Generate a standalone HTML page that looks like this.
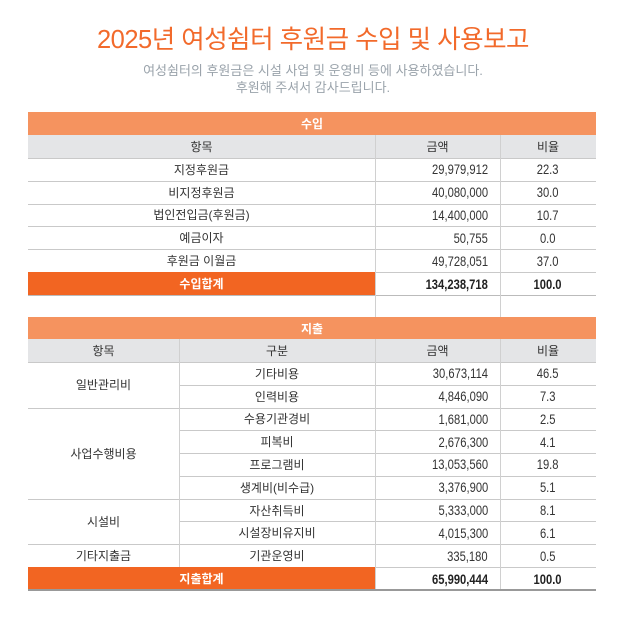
<!DOCTYPE html>
<html><head><meta charset="utf-8"><style>
body{margin:0;width:626px;height:629px;background:#fff;position:relative;overflow:hidden;font-family:"Liberation Sans","Noto Sans CJK KR",sans-serif;}
.a{position:absolute;box-sizing:border-box;}
.t{font-size:12px;color:#333;display:flex;align-items:center;justify-content:center;}
.n span{display:inline-block;font-size:14px;transform:scaleX(0.8);}
.r{justify-content:flex-end;padding-right:12px;}
.r span{transform-origin:right center;}
.hl{height:1px;background:#c9c9c9;}
.vl{width:1px;background:#d0d0d0;}
</style></head><body>
<div class="a" style="left:0;top:19px;width:626px;text-align:center;font-size:25.5px;letter-spacing:-0.5px;color:#f26a2b;">2025년 여성쉼터 후원금 수입 및 사용보고</div>
<div class="a" style="left:0;top:62px;width:626px;text-align:center;font-size:13px;line-height:17px;color:#9aa3ab;">여성쉼터의 후원금은 시설 사업 및 운영비 등에 사용하였습니다.<br>후원해 주셔서 감사드립니다.</div>
<div id="c"></div>
<script>
var h='';
function box(x,y,w,hh,bg){h+=`<div class="a" style="left:${x}px;top:${y}px;width:${w}px;height:${hh}px;background:${bg}"></div>`;}
function txt(x,y,w,hh,s,cls,st){if(cls&&cls.indexOf('n')==0)s='<span>'+s+'</span>';h+=`<div class="a t ${cls||''}" style="left:${x}px;top:${y}px;width:${w}px;height:${hh}px;${st||''}">${s}</div>`;}
function hl(y,c){h+=`<div class="a hl" style="left:28px;top:${y}px;width:568px;${c?'background:'+c:''}"></div>`;}
function vl(x,y,hh){h+=`<div class="a vl" style="left:${x}px;top:${y}px;height:${hh}px"></div>`;}
var L=28,W=568,C1=375,C2=500,R=596;
box(L,112,W,23,'#f5935f');txt(L,112,W,23,'수입','','color:#fff;font-weight:bold');
box(L,135,W,23,'#e4e5e7');
txt(L,135,C1-L,23,'항목');txt(C1,135,C2-C1,23,'금액');txt(C2,135,R-C2,23,'비율');
var inc=[['지정후원금','29,979,912','22.3'],['비지정후원금','40,080,000','30.0'],['법인전입금(후원금)','14,400,000','10.7'],['예금이자','50,755','0.0'],['후원금 이월금','49,728,051','37.0']];
var y=158;
inc.forEach(function(r){hl(y);txt(L,y,C1-L,22.8,r[0]);txt(C1,y,C2-C1,22.8,r[1],'n r');txt(C2,y,R-C2,22.8,r[2],'n');y+=22.8;});
hl(y);
box(L,272,C1-L,23,'#f26522');txt(L,272,C1-L,23,'수입합계','','color:#fff;font-weight:bold');
txt(C1,272,C2-C1,23,'134,238,718','n r','font-weight:bold;color:#222');txt(C2,272,R-C2,23,'100.0','n','font-weight:bold;color:#222');
hl(295,'#bbb');
vl(C1,135,182);vl(C2,135,182);
box(L,317,W,22,'#f5935f');txt(L,317,W,22,'지출','','color:#fff;font-weight:bold');
box(L,339,W,23,'#e4e5e7');
txt(L,339,179-L,23,'항목');txt(179,339,C1-179,23,'구분');txt(C1,339,C2-C1,23,'금액');txt(C2,339,R-C2,23,'비율');
var ex=[['기타비용','30,673,114','46.5'],['인력비용','4,846,090','7.3'],['수용기관경비','1,681,000','2.5'],['피복비','2,676,300','4.1'],['프로그램비','13,053,560','19.8'],['생계비(비수급)','3,376,900','5.1'],['자산취득비','5,333,000','8.1'],['시설장비유지비','4,015,300','6.1'],['기관운영비','335,180','0.5']];
var rh=22.78;y=362;
var groups=[['일반관리비',2],['사업수행비용',4],['시설비',2],['기타지출금',1]];
var gy=362;
groups.forEach(function(g){h+=`<div class="a hl" style="left:28px;top:${gy}px;width:151px"></div>`;txt(L,gy,179-L,rh*g[1],g[0]);gy+=rh*g[1];});
ex.forEach(function(r){h+=`<div class="a hl" style="left:179px;top:${y}px;width:417px"></div>`;txt(179,y,C1-179,rh,r[0]);txt(C1,y,C2-C1,rh,r[1],'n r');txt(C2,y,R-C2,rh,r[2],'n');y+=rh;});
hl(567);
vl(179,339,251);vl(C1,339,251);vl(C2,339,251);
box(L,567,C1-L,23,'#f26522');txt(L,567,C1-L,23,'지출합계','','color:#fff;font-weight:bold');
txt(C1,567,C2-C1,23,'65,990,444','n r','font-weight:bold;color:#222');txt(C2,567,R-C2,23,'100.0','n','font-weight:bold;color:#222');
h+=`<div class="a" style="left:28px;top:589px;width:568px;height:2px;background:#999"></div>`;
document.getElementById('c').innerHTML=h;
</script>
</body></html>
